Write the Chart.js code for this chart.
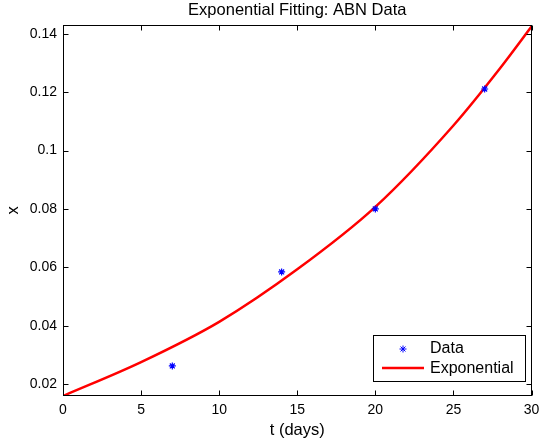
<!DOCTYPE html>
<html>
<head>
<meta charset="utf-8">
<script src="https://cdn.jsdelivr.net/npm/chart.js@4/dist/chart.umd.min.js"></script>
<style>
html,body{margin:0;padding:0;background:#fff;}
#wrap{width:539px;height:442px;position:relative;}
</style>
</head>
<body>
<div id="wrap"><canvas id="c" width="539" height="442"></canvas></div>
<script>
// Observed data (t in days, x)
const dataT = [7, 14, 20, 27];
const dataX = [0.0262, 0.0584, 0.0800, 0.1211];
// Fitted exponential curve
const fitT = [0, 5, 10, 15, 20, 25, 28, 30];
const fitX = [0.0159, 0.0275, 0.0413, 0.0593, 0.0807, 0.1086, 0.1283, 0.1425];
// Axis ticks
const xTicks = [0, 5, 10, 15, 20, 25, 30];
const yTicks = [0.02, 0.04, 0.06, 0.08, 0.1, 0.12, 0.14];
const xRange = [0, 30];
const yRange = [0.0159, 0.1431];

const FONT = '"Liberation Sans", Arial, Helvetica, sans-serif';

const boxPlugin = {
  id: 'box',
  afterDraw(chart) {
    const ctx = chart.ctx;
    const {left, right, top, bottom} = chart.chartArea;
    const xs = chart.scales.x, ys = chart.scales.y;
    ctx.save();
    ctx.strokeStyle = '#000';
    ctx.lineWidth = 1;
    const L = Math.round(left) + 0.5, R = Math.round(right) - 0.5;
    const T = Math.round(top) + 0.5, B = Math.round(bottom) - 0.5;
    ctx.beginPath();
    xTicks.forEach(v => {
      const p = Math.round(xs.getPixelForValue(v)) + 0.5;
      ctx.moveTo(p, B); ctx.lineTo(p, B - 5);
      ctx.moveTo(p, T); ctx.lineTo(p, T + 5);
    });
    yTicks.forEach(v => {
      const p = Math.round(ys.getPixelForValue(v)) + 0.5;
      ctx.moveTo(L, p); ctx.lineTo(L + 5, p);
      ctx.moveTo(R, p); ctx.lineTo(R - 5, p);
    });
    ctx.stroke();
    ctx.strokeRect(L, T, R - L, B - T);

    // legend
    const lx = 373.5, ly = 335.5, lw = 152, lh = 46;
    ctx.fillStyle = '#fff';
    ctx.fillRect(lx, ly, lw, lh);
    ctx.strokeRect(lx, ly, lw, lh);
    // star marker
    const sx = 403, sy = 349, r = 3.5;
    ctx.strokeStyle = '#0000ff';
    ctx.lineWidth = 1;
    ctx.beginPath();
    for (let k = 0; k < 4; k++) {
      const a = k * Math.PI / 4;
      ctx.moveTo(sx - r * Math.cos(a), sy - r * Math.sin(a));
      ctx.lineTo(sx + r * Math.cos(a), sy + r * Math.sin(a));
    }
    ctx.stroke();
    // red line
    ctx.strokeStyle = '#ff0000';
    ctx.lineWidth = 2.5;
    ctx.beginPath();
    ctx.moveTo(382, 368); ctx.lineTo(424, 368);
    ctx.stroke();
    ctx.fillStyle = '#000';
    ctx.font = '16px ' + FONT;
    ctx.textBaseline = 'middle';
    ctx.textAlign = 'left';
    ctx.fillText('Data', 430, 349);
    ctx.fillText('Exponential', 430, 369);
    ctx.restore();
  }
};

new Chart(document.getElementById('c'), {
  type: 'scatter',
  data: {
    datasets: [
      {
        label: 'Data',
        data: dataT.map((t, i) => ({x: t, y: dataX[i]})),
        showLine: false,
        pointStyle: 'star',
        pointRadius: 3.5,
        borderColor: '#0000ff',
        backgroundColor: '#0000ff',
        borderWidth: 1.2,
        order: 0
      },
      {
        label: 'Exponential',
        data: fitT.map((t, i) => ({x: t, y: fitX[i]})),
        showLine: true,
        pointRadius: 0,
        borderColor: '#ff0000',
        borderWidth: 2.5,
        cubicInterpolationMode: 'monotone',
        order: 1
      }
    ]
  },
  options: {
    responsive: false,
    animation: false,
    devicePixelRatio: 1,
    layout: {padding: {left: 0, right: 7.5, top: 0, bottom: 0}},
    plugins: {
      legend: {display: false},
      tooltip: {enabled: false},
      title: {
        display: true,
        fullSize: false,
        text: 'Exponential Fitting: ABN Data',
        color: '#000',
        font: {family: FONT, size: 16.5, weight: 'normal'},
        padding: {top: 1, bottom: 4}
      }
    },
    scales: {
      x: {
        type: 'linear',
        min: xRange[0], max: xRange[1],
        grid: {display: false, drawTicks: false},
        border: {display: false},
        afterBuildTicks: s => { s.ticks = xTicks.map(v => ({value: v})); },
        ticks: {
          color: '#000',
          font: {family: FONT, size: 14},
          padding: 6,
          maxRotation: 0,
          callback: v => String(v)
        },
        title: {
          display: true,
          text: 't (days)',
          color: '#000',
          font: {family: FONT, size: 16.5},
          padding: {top: 2, bottom: 2}
        },
        afterFit: s => { s.height = 46; s.paddingLeft = 0; s.paddingRight = 0; }
      },
      y: {
        type: 'linear',
        min: yRange[0], max: yRange[1],
        grid: {display: false, drawTicks: false},
        border: {display: false},
        afterBuildTicks: s => { s.ticks = yTicks.map(v => ({value: v})); },
        ticks: {
          color: '#000',
          font: {family: FONT, size: 14},
          padding: 6,
          callback: v => String(Math.round(v * 100) / 100)
        },
        title: {
          display: true,
          text: 'x',
          color: '#000',
          font: {family: FONT, size: 16.5},
          padding: {top: 4, bottom: 4}
        },
        afterFit: s => { s.width = 63; s.paddingTop = 0; s.paddingBottom = 0; }
      }
    }
  },
  plugins: [boxPlugin]
});
</script>
</body>
</html>
